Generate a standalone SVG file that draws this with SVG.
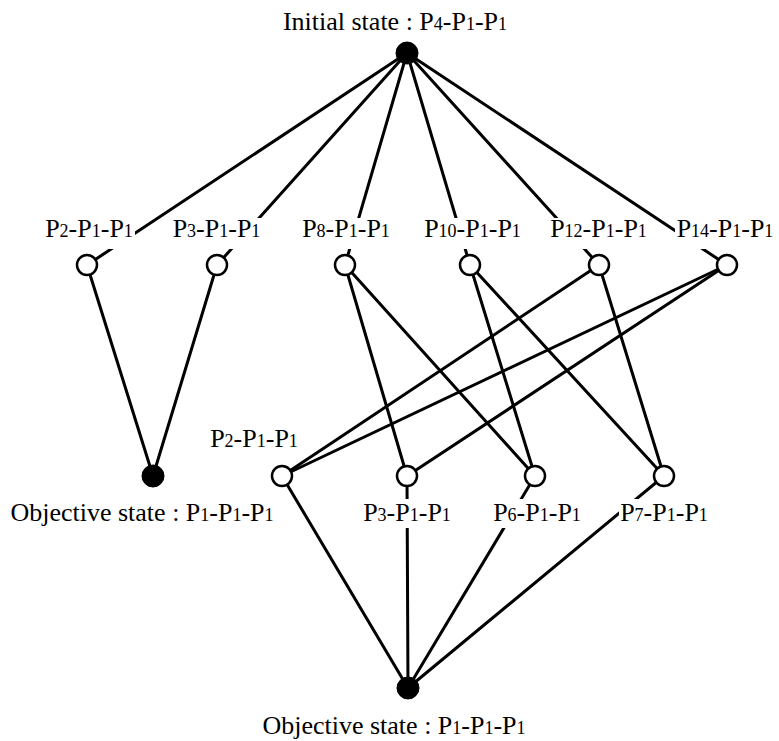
<svg xmlns="http://www.w3.org/2000/svg" width="779" height="741" viewBox="0 0 779 741">
  <style>
    .edge { stroke: #000; stroke-width: 3; fill: none; stroke-linecap: round; }
    .open { fill: #fff; stroke: #000; stroke-width: 2.5; }
    .filled { fill: #000; stroke: #000; stroke-width: 1; }
    .lbl { font-family: "Liberation Serif", "Times New Roman", serif; font-size: 26px; fill: #000; text-anchor: middle; }
    .sub { font-size: 18px; }
    .bg { fill: #fff; stroke: none; }
  </style>
  <rect x="0" y="0" width="779" height="741" fill="#fff"/>

  <g id="connectors">
    <!-- initial to level 2 -->
    <line class="edge" x1="407" y1="53" x2="87" y2="265"/>
    <line class="edge" x1="407" y1="53" x2="217" y2="265"/>
    <line class="edge" x1="407" y1="53" x2="345" y2="265"/>
    <line class="edge" x1="407" y1="53" x2="470" y2="265"/>
    <line class="edge" x1="407" y1="53" x2="599" y2="265"/>
    <line class="edge" x1="407" y1="53" x2="727" y2="265"/>
    <!-- left branch -->
    <line class="edge" x1="87" y1="265" x2="153" y2="476"/>
    <line class="edge" x1="217" y1="265" x2="153" y2="476"/>
    <!-- level 2 to level 3 -->
    <line class="edge" x1="345" y1="265" x2="407" y2="476"/>
    <line class="edge" x1="345" y1="265" x2="535" y2="476"/>
    <line class="edge" x1="470" y1="265" x2="535" y2="476"/>
    <line class="edge" x1="470" y1="265" x2="664" y2="476"/>
    <line class="edge" x1="599" y1="265" x2="282" y2="476"/>
    <line class="edge" x1="599" y1="265" x2="664" y2="476"/>
    <line class="edge" x1="727" y1="265" x2="282" y2="476"/>
    <line class="edge" x1="727" y1="265" x2="407" y2="476"/>
    <!-- level 3 to objective -->
    <line class="edge" x1="282" y1="476" x2="408" y2="688"/>
    <line class="edge" x1="407" y1="476" x2="408" y2="688"/>
    <line class="edge" x1="535" y1="476" x2="408" y2="688"/>
    <line class="edge" x1="664" y1="476" x2="408" y2="688"/>
  </g>

  <g id="initial">
    <circle class="filled" cx="407" cy="53" r="11"/>
    <text class="lbl" x="395" y="30">Initial state : P<tspan class="sub">4</tspan>-P<tspan class="sub">1</tspan>-P<tspan class="sub">1</tspan></text>
  </g>

  <g id="n2_P2">
    <rect class="bg" x="44" y="218" width="91" height="31"/>
    <text class="lbl" x="89" y="237">P<tspan class="sub">2</tspan>-P<tspan class="sub">1</tspan>-P<tspan class="sub">1</tspan></text>
    <circle class="open" cx="87" cy="265" r="10"/>
  </g>
  <g id="n2_P3">
    <rect class="bg" x="172" y="218" width="90" height="31"/>
    <text class="lbl" x="216.5" y="237">P<tspan class="sub">3</tspan>-P<tspan class="sub">1</tspan>-P<tspan class="sub">1</tspan></text>
    <circle class="open" cx="217" cy="265" r="10"/>
  </g>
  <g id="n2_P8">
    <rect class="bg" x="301" y="218" width="90" height="31"/>
    <text class="lbl" x="346" y="237">P<tspan class="sub">8</tspan>-P<tspan class="sub">1</tspan>-P<tspan class="sub">1</tspan></text>
    <circle class="open" cx="345" cy="265" r="10"/>
  </g>
  <g id="n2_P10">
    <rect class="bg" x="422" y="218" width="101" height="31"/>
    <text class="lbl" x="472.5" y="237">P<tspan class="sub">10</tspan>-P<tspan class="sub">1</tspan>-P<tspan class="sub">1</tspan></text>
    <circle class="open" cx="470" cy="265" r="10"/>
  </g>
  <g id="n2_P12">
    <rect class="bg" x="549" y="218" width="99" height="31"/>
    <text class="lbl" x="598.5" y="237">P<tspan class="sub">12</tspan>-P<tspan class="sub">1</tspan>-P<tspan class="sub">1</tspan></text>
    <circle class="open" cx="599" cy="265" r="10"/>
  </g>
  <g id="n2_P14">
    <rect class="bg" x="675" y="218" width="100" height="31"/>
    <text class="lbl" x="725" y="237">P<tspan class="sub">14</tspan>-P<tspan class="sub">1</tspan>-P<tspan class="sub">1</tspan></text>
    <circle class="open" cx="727" cy="265" r="10"/>
  </g>

  <g id="objective_left">
    <circle class="filled" cx="153" cy="476" r="11"/>
    <text class="lbl" x="142" y="521">Objective state : P<tspan class="sub">1</tspan>-P<tspan class="sub">1</tspan>-P<tspan class="sub">1</tspan></text>
  </g>

  <g id="n3_P2">
    <text class="lbl" x="254" y="447">P<tspan class="sub">2</tspan>-P<tspan class="sub">1</tspan>-P<tspan class="sub">1</tspan></text>
    <circle class="open" cx="282" cy="476" r="10"/>
  </g>
  <g id="n3_P3">
    <rect class="bg" x="362" y="499" width="90" height="29"/>
    <text class="lbl" x="407" y="521">P<tspan class="sub">3</tspan>-P<tspan class="sub">1</tspan>-P<tspan class="sub">1</tspan></text>
    <circle class="open" cx="407" cy="476" r="10"/>
  </g>
  <g id="n3_P6">
    <rect class="bg" x="492" y="499" width="90" height="29"/>
    <text class="lbl" x="537" y="521">P<tspan class="sub">6</tspan>-P<tspan class="sub">1</tspan>-P<tspan class="sub">1</tspan></text>
    <circle class="open" cx="535" cy="476" r="10"/>
  </g>
  <g id="n3_P7">
    <rect class="bg" x="619" y="499" width="90" height="29"/>
    <text class="lbl" x="664" y="521">P<tspan class="sub">7</tspan>-P<tspan class="sub">1</tspan>-P<tspan class="sub">1</tspan></text>
    <circle class="open" cx="664" cy="476" r="10"/>
  </g>

  <g id="objective_bottom">
    <circle class="filled" cx="408" cy="688" r="11"/>
    <text class="lbl" x="394" y="734">Objective state : P<tspan class="sub">1</tspan>-P<tspan class="sub">1</tspan>-P<tspan class="sub">1</tspan></text>
  </g>
</svg>
